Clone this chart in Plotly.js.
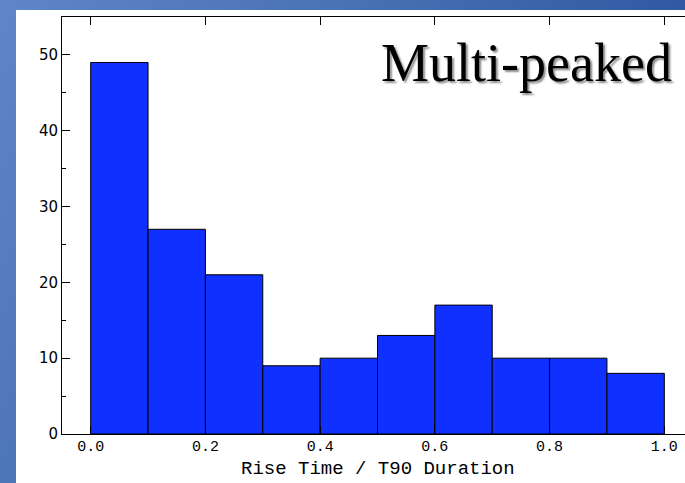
<!DOCTYPE html>
<html>
<head>
<meta charset="utf-8">
<script src="https://cdn.plot.ly/plotly-3.0.1.min.js"></script>
<style>
  html, body { margin: 0; padding: 0; width: 685px; height: 483px; overflow: hidden; }
  body { background: linear-gradient(120deg, #5f86c8 0%, #4a72b6 35%, #2d58a0 75%, #24509a 100%); position: relative; }
  #chart { position: absolute; left: 16px; top: 10px; width: 700px; height: 473px; background: #fff; }
</style>
</head>
<body>
<div id="chart"></div>
<script>
// Histogram of rise time / T90 duration, bins of width 0.1
const binLeft = [0.0, 0.1, 0.2, 0.3, 0.4, 0.5, 0.6, 0.7, 0.8, 0.9];
const counts  = [49, 27, 21, 9, 10, 13, 17, 10, 10, 8];
const binWidth = 0.1;
const xTickVals = [0.0, 0.2, 0.4, 0.6, 0.8, 1.0];
const xTickText = ['0.0', '0.2', '0.4', '0.6', '0.8', '1.0'];
const yTickVals = [0, 10, 20, 30, 40, 50];
const xTitle = 'Rise Time / T90 Duration';
const label = 'Multi-peaked';

const trace = {
  type: 'bar',
  x: binLeft,
  y: counts,
  width: binLeft.map(() => binWidth),
  offset: 0,
  marker: { color: 'rgb(16,48,255)', line: { color: '#000', width: 1 } },
  hoverinfo: 'skip'
};

const layout = {
  width: 700, height: 473,
  margin: { l: 46, r: 23, t: 7, b: 49 },
  paper_bgcolor: '#fff',
  plot_bgcolor: '#fff',
  showlegend: false,
  bargap: 0,
  xaxis: {
    range: [-0.05, 1.05],
    tickvals: xTickVals, ticktext: xTickText,
    ticks: 'inside', ticklen: 8, tickcolor: '#000', tickwidth: 1,
    ticklabelstandoff: -2,
    showline: true, linecolor: '#000', linewidth: 1, mirror: 'ticks',
    showgrid: false, zeroline: false,
    tickfont: { family: 'Liberation Mono, monospace', size: 15, color: '#000' }
  },
  yaxis: {
    range: [0, 55],
    tickvals: yTickVals,
    ticks: 'inside', ticklen: 8, tickcolor: '#000', tickwidth: 1,
    minor: { dtick: 5, tick0: 5, ticks: 'inside', ticklen: 4, tickcolor: '#000' },
    showline: true, linecolor: '#000', linewidth: 1, mirror: 'ticks',
    showgrid: false, zeroline: false,
    tickfont: { family: 'DejaVu Sans, sans-serif', size: 15, color: '#000' }
  },
  annotations: [{
    text: label, xref: 'x', yref: 'y', x: 1.016, y: 48.9,
    xanchor: 'right', yanchor: 'middle', showarrow: false,
    font: { family: 'Liberation Serif, serif', size: 54, color: '#000', shadow: '2px 2px 2px rgba(0,0,0,0.45)' }
  }, {
    text: xTitle, xref: 'x', yref: 'paper', x: 0.5, y: 0,
    xanchor: 'center', yanchor: 'middle', yshift: -35, showarrow: false,
    font: { family: 'Liberation Mono, monospace', size: 19, color: '#000' }
  }]
};

Plotly.newPlot('chart', [trace], layout, { displayModeBar: false, staticPlot: true });
</script>
</body>
</html>
